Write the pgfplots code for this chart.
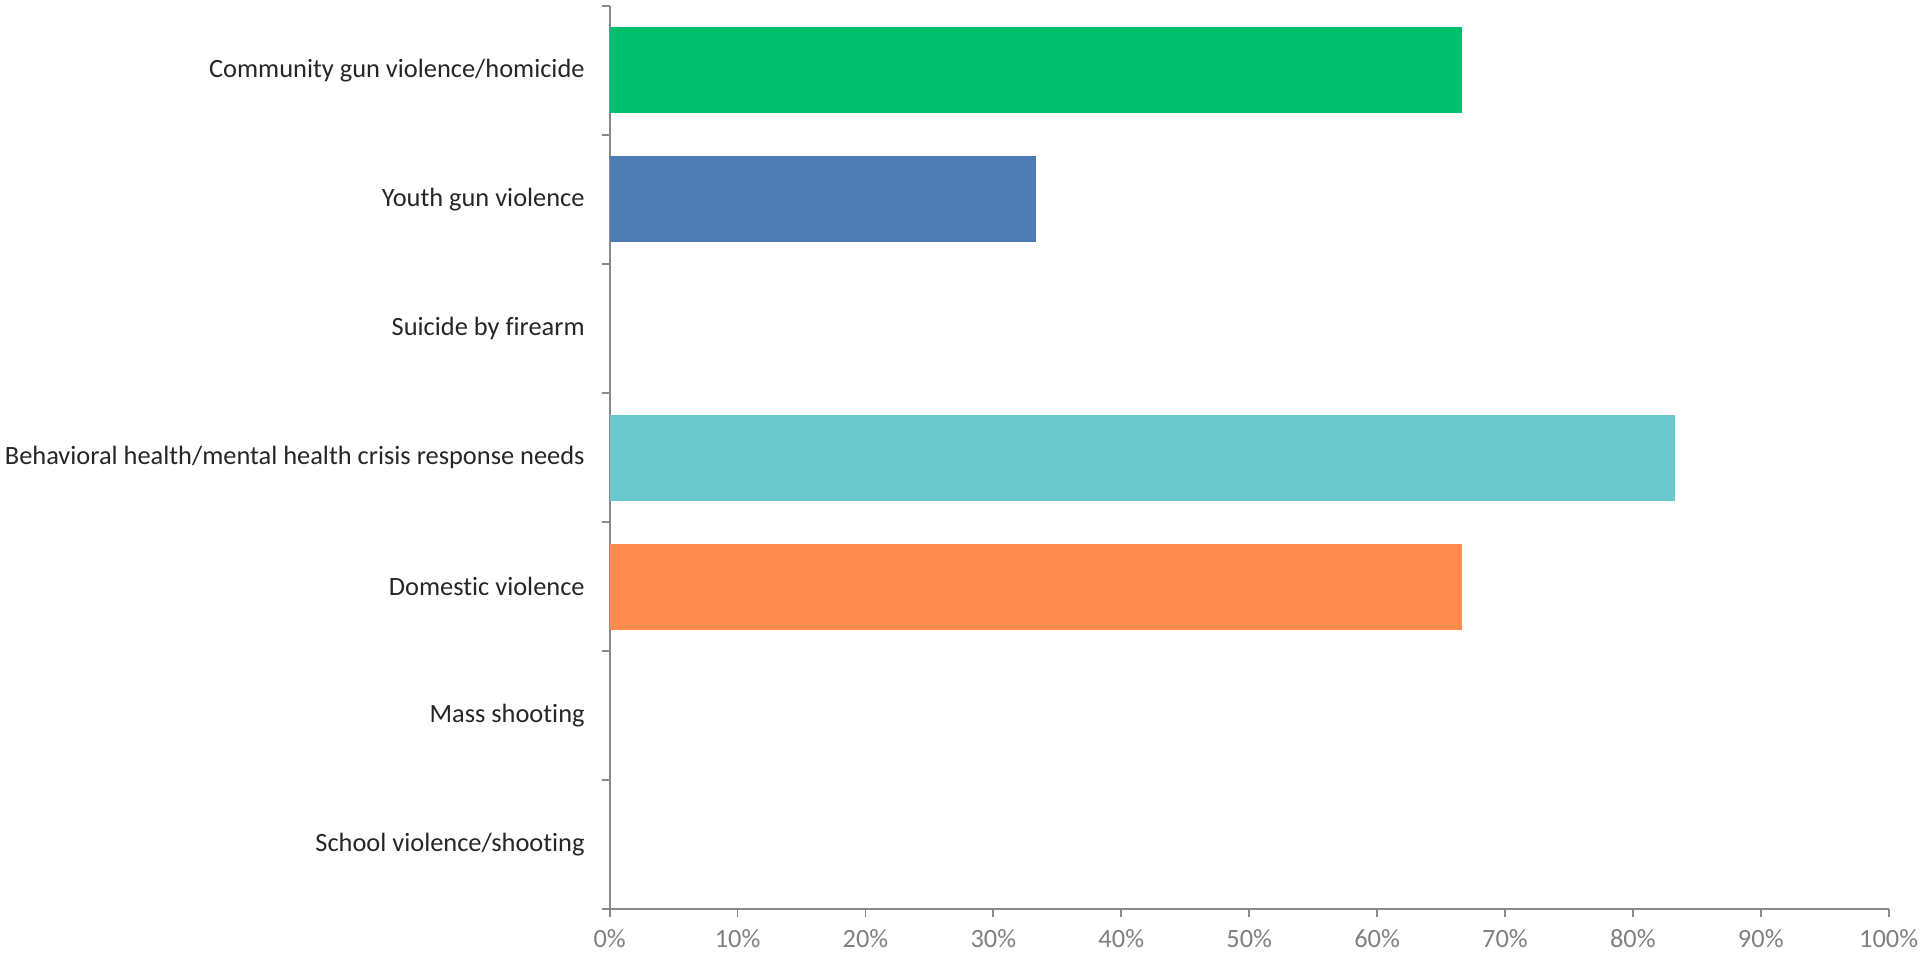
\documentclass[border=0pt]{standalone}
\usepackage{pgfplots}
\pgfplotsset{compat=1.18}
\usepackage{fontspec}
\setmainfont{Carlito}[Ligatures={NoCommon}]
\definecolor{cgreen}{HTML}{00BF6F}
\definecolor{cblue}{HTML}{507CB6}
\definecolor{cteal}{HTML}{6BC8CD}
\definecolor{corange}{HTML}{FF8B4F}
\definecolor{axgray}{HTML}{898989}
\definecolor{tickgray}{HTML}{808080}
\definecolor{labtxt}{HTML}{262626}
\begin{document}
\begin{tikzpicture}
\begin{axis}[
  scale only axis,
  width=639.5pt, height=451.8pt,
  xbar, bar width=43pt,
  xmin=0, xmax=100,
  ymin=-0.5, ymax=6.5,
  y dir=reverse,
  axis lines*=left,
  axis line style={axgray, line width=0.9pt},
  xtick={0,10,...,100},
  xticklabels={0\%,10\%,20\%,30\%,40\%,50\%,60\%,70\%,80\%,90\%,100\%},
  ytick={0,...,6},
  yticklabels={Community gun violence/homicide,Youth gun violence,Suicide by firearm,Behavioral health/mental health crisis response needs,Domestic violence,Mass shooting,School violence/shooting},
  minor ytick={-0.5,0.5,...,6.5},
  tick align=outside,
  major tick length=4pt,
  tick style={axgray, line width=0.9pt},
  every major y tick/.style={draw=none},
  minor tick length=4pt,
  xticklabel style={font=\fontsize{13.2}{15}\selectfont, text=tickgray, yshift=-2.5pt},
  yticklabel style={font=\fontsize{13.2}{15}\selectfont, text=labtxt, xshift=-5pt},
  /pgf/number format/assume math mode=true,
  clip=false,
]
\addplot[fill=cgreen, draw=none, bar shift=0pt] coordinates {(66.67,0)};
\addplot[fill=cblue, draw=none, bar shift=0pt] coordinates {(33.33,1)};
\addplot[fill=cteal, draw=none, bar shift=0pt] coordinates {(83.33,3)};
\addplot[fill=corange, draw=none, bar shift=0pt] coordinates {(66.67,4)};
\end{axis}
\pgfresetboundingbox
\path[use as bounding box] ([xshift=-304.85pt,yshift=-22.8pt]current axis.south west) rectangle ([xshift=16.15pt,yshift=2.85pt]current axis.north east);
\end{tikzpicture}
\end{document}
